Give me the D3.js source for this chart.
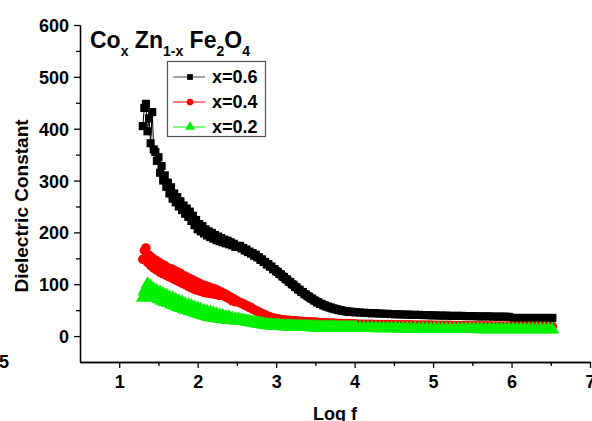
<!DOCTYPE html>
<html><head><meta charset="utf-8">
<script src="https://cdn.jsdelivr.net/npm/d3@7/dist/d3.min.js"></script>
<style>body{margin:0;background:#fff;} svg{display:block;} text{font-family:"Liberation Sans",Arial,sans-serif;font-weight:bold;}</style>
</head><body>
<svg id="c" width="592" height="421"></svg>
<script>
// ---- data ----
const logF = [
1.30,1.32,1.34,1.36,1.38,1.40,1.42,1.44,1.46,1.48,
1.50,1.52,1.54,1.56,1.58,1.60,1.62,1.64,1.66,1.68,
1.70,1.72,1.74,1.76,1.78,1.80,1.82,1.84,1.86,1.88,
1.90,1.92,1.94,1.96,1.98,2.00,2.02,2.04,2.06,2.08,
2.10,2.12,2.14,2.16,2.18,2.20,2.22,2.24,2.26,2.28,
2.30,2.32,2.34,2.36,2.38,2.40,2.42,2.44,2.46,2.48,
2.50,
2.52,2.54,2.56,2.58,2.60,2.62,2.64,2.66,2.68,2.70,
2.72,2.74,2.76,2.78,2.80,2.82,2.84,2.86,2.88,2.90,
2.92,2.94,2.96,2.98,3.00,3.02,3.04,3.06,3.08,3.10,
3.12,3.14,3.16,3.18,3.20,3.22,3.24,3.26,3.28,3.30,
3.32,3.34,3.36,3.38,3.40,3.42,3.44,3.46,3.48,3.50,
3.52,3.54,3.56,3.58,3.60,3.62,3.64,3.66,3.68,3.70,
3.72,3.74,3.76,3.78,3.80,3.82,3.84,3.86,3.88,3.90,
3.92,3.94,3.96,3.98,4.00,4.02,
4.07,4.12,4.17,4.22,4.27,4.32,4.37,4.42,4.47,4.52,
4.57,4.62,4.67,4.72,4.77,4.82,4.87,4.92,4.97,5.02,
5.07,5.12,5.17,5.22,5.27,5.32,5.37,5.42,5.47,5.52,
5.57,5.62,5.67,5.72,5.77,5.82,5.87,5.92,5.97,6.02,
6.07,6.12,6.17,6.22,6.27,6.32,6.37,6.42,6.47,6.52];

const x06 = [
405,440,448,395,420,372,432,360,355,338,
345,315,328,300,310,288,296,275,287,265,
275,258,268,250,260,243,252,236,246,230,
240,222,232,214,224,206,216,202,212,198,
206,194,202,191,199,188,195,185,192,183,
189,181,186,179,184,177,181,175,178,172,
174,
172,174,169,170,165,167,162,163,159,160,
155,157,152,152,147,148,143,143,138,139,
134,134,129,129,125,124,120,119,115,114,
110,109,105,104,100,99,95,94,90,89,
85,85,81,80,77,76,73,72,69,68,
65,65,62,62,59.5,59,57,57,55,55,
53,53,51.5,51.5,50,50,49,48.5,48,47.5,
47,47,46.5,46.5,46,46,
45.5,45,44.5,44,44,43.5,43,43,42.5,42,
42,41.5,41.5,41,41,41,40.5,40.5,40,40,
39.5,39.5,39.5,39,39,39,39,38.5,38.5,38.5,
38,38,38,38,37.5,37.5,37.5,37.5,37,35,
35,35,35,35,35,35,35,35,35,35];

const x04 = [
148,165,170,142,156,136,151,131,147,127,
143,123,139,120,136,117,132,114,130,111,
127,108,124,105,121,102,117,99,114,96,
111,93,108,90,105,88,102,86,99,84,
97,83,95,82,93,81,91,80,88,78,
85,78,82,75,79,72,75,68,72,66,
68,
66,64,64,61,61,58,58,55,55,52,
51,49,48,46,45,43,42,40.5,39.5,38,
37,36,35,34.5,33.5,33,32.5,32,31.5,31,
30.5,30.5,30,30,29.5,29.5,29,29,28.5,28.5,
28,28,27.5,27.5,27.5,27,27,27,26.5,26.5,
26.5,26,26,26,25.5,25.5,25.5,25.5,25,25,
25,25,24.5,24.5,24.5,24.5,24,24,24,24,
24,23.5,23.5,23.5,23.5,23.5,
23,23,22.8,22.7,22.6,22.5,22.4,22.3,22.2,22.1,
22,21.9,21.8,21.7,21.6,21.5,21.4,21.3,21.2,21.1,
21,20.9,20.8,20.7,20.6,20.5,20.4,20.3,20.2,20.1,
20,20,19.9,19.8,19.7,19.6,19.5,19.4,19.3,19.2,
19.1,19,19,19,19,19,19,19,18.8,18.5];

const x02 = [
74,86,92,100,84,95,78,90,74,87,
71,84,68,81,66,78,64,75,61,73,
59,70,56,67,54,65,52,62,50,60,
48,58,46,55,44,53,42,51,40,49,
39,47,37,46,36,44,35,42,34,40,
33,39,32,37,31,36,31,34,30,33,
30,
32,30,30.5,29,29,28,27.5,27,26.5,26,
25.5,25,24.5,24,23.5,23,22.5,22,21.5,21,
20.8,20.6,20.4,20.2,20,19.8,19.6,19.4,19.2,19,
18.9,18.8,18.7,18.6,18.5,18.4,18.3,18.2,18.1,18,
17.9,17.8,17.7,17.6,17.5,17.4,17.3,17.2,17.1,17,
16.9,16.8,16.8,16.7,16.7,16.6,16.6,16.5,16.5,16.4,
16.4,16.3,16.3,16.2,16.2,16.1,16.1,16,16,16,
15.9,15.9,15.9,15.8,15.8,15.8,
15.7,15.6,15.5,15.4,15.3,15.2,15.1,15,14.9,14.8,
14.7,14.6,14.5,14.4,14.3,14.2,14.1,14,14,13.9,
13.9,13.8,13.8,13.7,13.7,13.6,13.6,13.5,13.5,13.5,
13.4,13.4,13.3,13.3,13.3,13.2,13.2,13.2,13.1,13,
13,13,13,13,13,13,13,13,13,12.8];

const seriesNames = ["x=0.6","x=0.4","x=0.2"];
const xTicks = [1,2,3,4,5,6,7];
const yTicks = [0,100,200,300,400,500,600];

// ---- chart ----
const svg = d3.select("#c");
const x = d3.scaleLinear().domain([0.5,7]).range([80,590]);
const y = d3.scaleLinear().domain([-50,600]).range([362,25]);

const series = [
  {name:seriesNames[0], vals:x06, color:"#000000", line:"#444", sym:d3.symbolSquare, size:66},
  {name:seriesNames[1], vals:x04, color:"#ff0000", line:"#ff0000", sym:d3.symbolCircle, size:70},
  {name:seriesNames[2], vals:x02, color:"#00f000", line:"#00f000", sym:d3.symbolTriangle, size:84}
];

series.forEach(s=>{
  const pts = logF.map((f,i)=>[f,s.vals[i]]).filter(d=>d[1]!=null);
  svg.append("path").datum(pts)
    .attr("d", d3.line().x(d=>x(d[0])).y(d=>y(d[1])))
    .attr("fill","none").attr("stroke",s.color).attr("stroke-width",1);
  svg.append("g").selectAll("path").data(pts).join("path")
    .attr("transform",d=>`translate(${x(d[0])},${y(d[1])})`)
    .attr("d", d3.symbol().type(s.sym).size(s.size)())
    .attr("fill",s.color);
});

// axes
const xAxis = svg.append("g").attr("transform","translate(0,362)")
  .call(d3.axisBottom(x).tickValues(xTicks).tickFormat(d3.format("d")).tickSize(6).tickSizeOuter(0));
const xMinor = svg.append("g").attr("transform","translate(0,362)")
  .call(d3.axisBottom(x).tickValues([1.5,2.5,3.5,4.5,5.5,6.5]).tickFormat("").tickSize(4).tickSizeOuter(0));
const yAxis = svg.append("g").attr("transform","translate(80,0)")
  .call(d3.axisLeft(y).tickValues(yTicks).tickFormat(d3.format("d")).tickSize(6).tickSizeOuter(0));
const yMinor = svg.append("g").attr("transform","translate(80,0)")
  .call(d3.axisLeft(y).tickValues([50,150,250,350,450,550]).tickFormat("").tickSize(4).tickSizeOuter(0));
[xAxis,xMinor,yAxis,yMinor].forEach(g=>{
  g.selectAll("path,line").attr("stroke","#000").attr("stroke-width",1.3);
  g.selectAll("text").attr("font-size",18).attr("font-weight","bold").attr("fill","#000")
   .attr("font-family","Liberation Sans, Arial, sans-serif");
});
xAxis.selectAll("text").attr("dy",null).attr("y",26);
yAxis.selectAll("text").attr("x",-11).attr("dy","0.36em");

// axis titles
svg.append("text").attr("transform","translate(28,206) rotate(-90)")
  .attr("text-anchor","middle").attr("font-size",19).text("Dielectric Constant");
svg.append("text").attr("x",335).attr("y",420).attr("text-anchor","middle")
  .attr("font-size",18).text("Log f");
svg.append("text").attr("x",-1).attr("y",368).attr("font-size",18).text("5");

// title
const t = svg.append("text").attr("x",90).attr("y",48).attr("font-size",23);
t.append("tspan").text("Co");
t.append("tspan").attr("font-size",14).attr("dy",8).text("x");
t.append("tspan").attr("dy",-8).text(" Zn");
t.append("tspan").attr("font-size",14).attr("dy",8).text("1-x");
t.append("tspan").attr("dy",-8).text(" Fe");
t.append("tspan").attr("font-size",14).attr("dy",8).text("2");
t.append("tspan").attr("dy",-8).text("O");
t.append("tspan").attr("font-size",14).attr("dy",8).text("4");

// legend
const lg = svg.append("g");
lg.append("rect").attr("x",167.5).attr("y",61.5).attr("width",98).attr("height",75)
  .attr("fill","#fff").attr("stroke","#555").attr("stroke-width",1.2);
series.forEach((s,i)=>{
  const cy = 77 + i*25;
  lg.append("line").attr("x1",173).attr("x2",205).attr("y1",cy).attr("y2",cy)
    .attr("stroke",s.line).attr("stroke-width",1);
  lg.append("path").attr("transform",`translate(190,${cy})`)
    .attr("d", d3.symbol().type(s.sym).size(s.size*0.5)()).attr("fill",s.color);
  lg.append("text").attr("x",212).attr("y",cy).attr("dy","0.36em").attr("font-size",18).text(s.name);
});
</script>
</body></html>
